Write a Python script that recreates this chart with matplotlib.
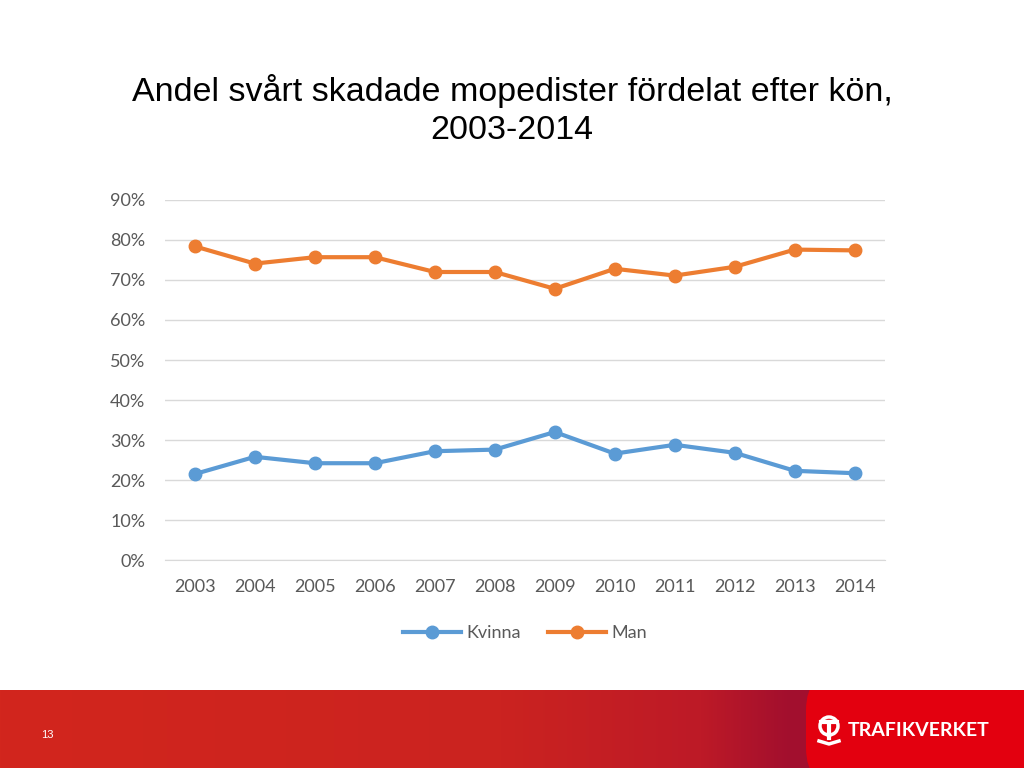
import numpy as np
import matplotlib.pyplot as plt
from matplotlib.patches import FancyBboxPatch
from matplotlib.colors import to_rgb

# Data
years = ['2003', '2004', '2005', '2006', '2007', '2008', '2009', '2010', '2011', '2012', '2013', '2014']
kvinna = [21.5, 25.8, 24.2, 24.2, 27.2, 27.6, 32.0, 26.6, 28.8, 26.8, 22.3, 21.7]
man = [78.4, 74.1, 75.7, 75.7, 72.0, 72.0, 67.8, 72.8, 71.1, 73.3, 77.6, 77.4]
yticks = list(range(0, 91, 10))

blue = '#5B9BD5'
orange = '#ED7D31'
grey = '#595959'

fig = plt.figure(figsize=(10.24, 7.68), dpi=100)

# Title
fig.text(0.5, 0.857, 'Andel svårt skadade mopedister fördelat efter kön,\n2003-2014',
         ha='center', va='center', fontsize=24.5, family='Liberation Sans',
         linespacing=1.3, color='#000000')

# Chart
ax = fig.add_axes([0.161, 0.2708, 0.703, 0.4688])
x = np.arange(len(years))
ax.plot(x, kvinna, color=blue, lw=3, marker='o', ms=9, label='Kvinna')
ax.plot(x, man, color=orange, lw=3, marker='o', ms=9, label='Man')
ax.set_xlim(-0.5, len(years) - 0.5)
ax.set_ylim(0, 90)
ax.set_yticks(yticks)
ax.set_yticklabels([f'{v}%' for v in yticks])
ax.set_xticks(x)
ax.set_xticklabels(years)
ax.grid(axis='y', color='#D9D9D9', lw=1)
ax.set_axisbelow(True)
for s in ax.spines.values():
    s.set_visible(False)
ax.spines['bottom'].set_visible(True)
ax.spines['bottom'].set_color('#D9D9D9')
ax.tick_params(length=0, labelsize=13, labelcolor=grey)
for lab in ax.get_xticklabels() + ax.get_yticklabels():
    lab.set_family('Lato')
ax.tick_params(axis='x', pad=14)
ax.tick_params(axis='y', pad=14)
leg = ax.legend(loc='upper center', bbox_to_anchor=(0.5, -0.135), ncol=2, frameon=False,
                prop={'family': 'Lato', 'size': 13}, handlelength=3.2, columnspacing=1.5,
                handletextpad=0.3)
for t in leg.get_texts():
    t.set_color(grey)

# Footer band
fax = fig.add_axes([0, 0, 1, 78 / 768])
fax.set_xlim(0, 1024)
fax.set_ylim(0, 78)
fax.axis('off')
stops = [(0, '#D2261D'), (500, '#CB2320'), (700, '#BD1A27'), (790, '#A20F2E'), (1024, '#A20F2E')]
cols = np.arange(1024)
grad = np.zeros((1, 1024, 3))
for c in range(3):
    grad[0, :, c] = np.interp(cols, [s[0] for s in stops], [to_rgb(s[1])[c] for s in stops])
fax.imshow(grad, extent=[0, 1024, 0, 78], aspect='auto')
fax.add_patch(FancyBboxPatch((806, -20), 260, 118, boxstyle='round,pad=0,rounding_size=40',
                             fc='#E3000F', ec='none'))
fax.text(47, 33, '13', color='white', fontsize=8, family='Liberation Sans', ha='center', va='center')
fax.text(848, 37, 'TRAFIKVERKET', color='white', fontsize=14, family='Lato',
         fontweight='bold', ha='left', va='center')
# simple emblem
fax.add_patch(plt.Circle((829, 42), 9, fc='none', ec='white', lw=2.5))
fax.plot([821, 837], [46, 46], color='white', lw=3)
fax.plot([829, 829], [46, 30], color='white', lw=3)
fax.plot([819, 829, 839], [27, 24, 27], color='white', lw=2.5)

fig.savefig('out.png', dpi=100)
